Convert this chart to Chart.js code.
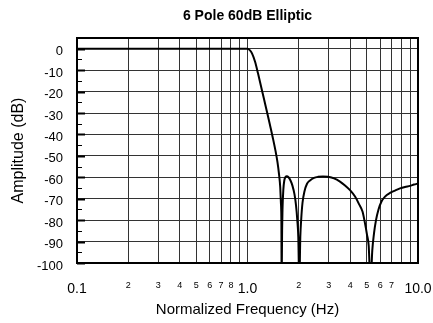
<!DOCTYPE html>
<html>
<head>
<meta charset="utf-8">
<script src="https://cdn.jsdelivr.net/npm/chart.js@4.4.1/dist/chart.umd.min.js"></script>
<style>
  body { margin: 0; background: #fff; }
  canvas { display: block; }
</style>
</head>
<body>
<canvas id="chart" width="433" height="323"></canvas>
<script>
// filter response (nulls pushed below the axis floor)
const freqHz = [0.1, 0.5, 0.9, 1.0, 1.0343, 1.0627, 1.1066, 1.1524, 1.2001, 1.2497, 1.3015, 1.3553, 1.4113, 1.4598, 1.4997, 1.5304, 1.5554, 1.5702, 1.5808, 1.585,
  1.5957, 1.6043, 1.6217, 1.6438, 1.6707, 1.7004, 1.7398, 1.7873, 1.8362, 1.8865, 1.9251, 1.9592, 1.9858, 2.0128,
  2.0403, 2.0677, 2.1014, 2.1597, 2.2338, 2.3261, 2.4547, 2.5909, 2.7724, 2.9668, 3.2169, 3.4875, 3.732, 3.9935, 4.2732, 4.5084, 4.7263, 4.8886, 5.0226, 5.1392, 5.2656,
  5.395, 5.5202, 5.6715, 5.8662, 6.1084, 6.4038, 6.8501, 7.3296, 7.841, 8.3889, 8.9758, 9.4739, 10.0];
const amplitudeDb = [0, 0, 0, 0, -0.8, -2.2, -6, -11.5, -17.5, -23.5, -29.5, -35.7, -42, -47.7, -53, -58.5, -64.5, -72, -82, -110,
  -85, -75, -66, -61.5, -59.9, -59.5, -60, -61.5, -64, -68, -73, -80, -88, -110,
  -88, -79, -72, -66.5, -63, -61.5, -60.3, -59.8, -59.6, -59.8, -60.5, -62, -63.8, -66, -69, -72.5, -76, -81.5, -86.8, -92, -110,
  -94, -86.2, -80, -75, -71.3, -69, -67.3, -66.2, -65.2, -64.5, -64, -63.4, -62.9];

const xTickValues = [0.1, 0.2, 0.3, 0.4, 0.5, 0.6, 0.7, 0.8, 0.9, 1, 2, 3, 4, 5, 6, 7, 8, 9, 10];
const xTickLabels = ['0.1', '2', '3', '4', '5', '6', '7', '8', '', '1.0', '2', '3', '4', '5', '6', '7', '', '', '10.0'];
const xBigLabels = [0.1, 1, 10];

const yTickValues = [-100, -95, -90, -85, -80, -75, -70, -65, -60, -55, -50, -45, -40, -35, -30, -25, -20, -15, -10, -5, 0];

const FONT = 'Liberation Sans, Arial, Helvetica, sans-serif';
Chart.defaults.color = '#000';
Chart.defaults.font.family = FONT;

// frame + little tick marks on the left edge
const framePlugin = {
  id: 'frame',
  afterDatasetsDraw(chart) {
    const { ctx, chartArea: a, scales } = chart;
    ctx.save();
    ctx.strokeStyle = '#000';
    yTickValues.forEach(v => {
      const y = Math.round(scales.y.getPixelForValue(v)) + 0.5;
      const major = v % 10 === 0;
      ctx.lineWidth = major ? 2 : 1;
      ctx.beginPath();
      ctx.moveTo(a.left, y);
      ctx.lineTo(a.left + (major ? 8 : 5), y);
      ctx.stroke();
    });
    ctx.lineWidth = 2;
    ctx.strokeRect(a.left, a.top, a.right - a.left, a.bottom - a.top);
    ctx.restore();
  }
};

new Chart(document.getElementById('chart'), {
  type: 'line',
  data: {
    datasets: [{
      data: freqHz.map((f, i) => ({ x: f, y: amplitudeDb[i] })),
      borderColor: '#000',
      borderWidth: 2,
      pointRadius: 0,
      cubicInterpolationMode: 'monotone',
      clip: 0
    }]
  },
  options: {
    responsive: false,
    animation: false,
    layout: { padding: { left: 0, right: 15, top: 0, bottom: 0 } },
    plugins: {
      legend: { display: false },
      tooltip: { enabled: false },
      title: {
        display: true,
        text: '6 Pole 60dB Elliptic',
        fullSize: false,
        font: { size: 14, weight: 'bold' },
        padding: { top: 7.3, bottom: 13.9 }
      }
    },
    scales: {
      x: {
        type: 'logarithmic',
        min: 0.1,
        max: 10,
        afterBuildTicks: s => { s.ticks = xTickValues.map(v => ({ value: v })); },
        afterFit: s => { s.height = 60; s.paddingLeft = 0; s.paddingRight = 0; },
        border: { display: false },
        grid: { color: '#333', lineWidth: 1, drawTicks: false },
        ticks: {
          autoSkip: false,
          maxRotation: 0,
          padding: 17.6,
          callback: (v, i) => xTickLabels[i],
          font: c => (xBigLabels.includes(c.tick && c.tick.value) ? { size: 14 } : { size: 9 })
        },
        title: {
          display: true,
          text: 'Normalized Frequency (Hz)',
          font: { size: 15 },
          padding: { top: 0, bottom: 4 }
        }
      },
      y: {
        min: -100,
        max: 5,
        afterBuildTicks: s => { s.ticks = yTickValues.map(v => ({ value: v })); },
        afterFit: s => { s.width = 77; s.paddingTop = 0; s.paddingBottom = 0; },
        border: { display: false },
        grid: {
          drawTicks: false,
          lineWidth: 1,
          color: c => (c.tick && c.tick.value % 10 === 0 ? '#333' : 'rgba(0,0,0,0)')
        },
        ticks: {
          padding: 14,
          labelOffset: 3,
          font: { size: 13 },
          callback: v => (v % 10 === 0 ? String(v) : '')
        },
        title: {
          display: true,
          text: 'Amplitude (dB)',
          font: { size: 16 },
          padding: { top: 9.4, bottom: 0 }
        }
      }
    }
  },
  plugins: [framePlugin]
});
</script>
</body>
</html>
